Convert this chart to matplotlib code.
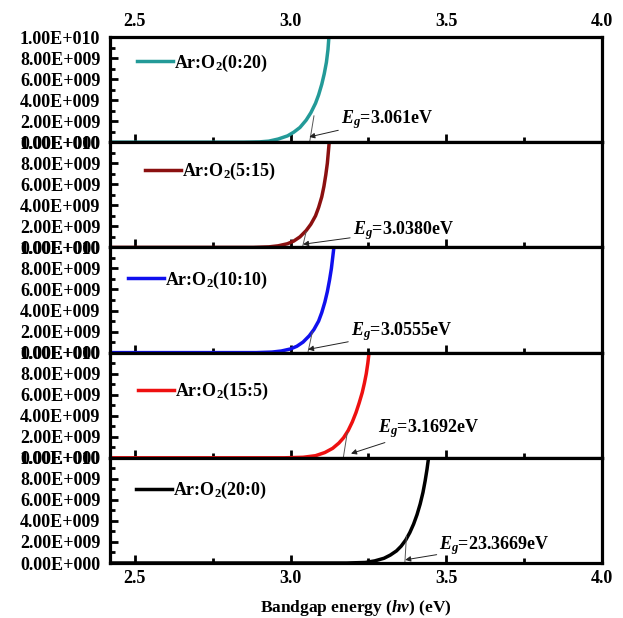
import matplotlib
matplotlib.use("Agg")
import matplotlib.pyplot as plt
from matplotlib.ticker import MultipleLocator, FixedLocator

plt.rcParams["font.family"] = ["Liberation Serif", "DejaVu Serif"]
plt.rcParams["font.weight"] = "bold"
plt.rcParams["mathtext.fontset"] = "custom"
plt.rcParams["mathtext.rm"] = "Liberation Serif:bold"
plt.rcParams["mathtext.bf"] = "Liberation Serif:bold"
plt.rcParams["mathtext.it"] = "Liberation Serif:italic:bold"

# données (x en eV, y en unités de 1e9)
labels = ["Ar:O$_2$(0:20)", "Ar:O$_2$(5:15)", "Ar:O$_2$(10:10)", "Ar:O$_2$(15:5)", "Ar:O$_2$(20:0)"]
colors = ["#239a98", "#8b1010", "#1010ee", "#ee1010", "#000000"]

x_0_20 = [2.42, 2.85, 2.90, 2.93, 2.96, 2.99, 3.01, 3.03, 3.05, 3.065, 3.08, 3.09, 3.10, 3.108, 3.115, 3.12, 3.123]
y_0_20 = [0, 0, 0.03, 0.1, 0.3, 0.6, 0.95, 1.4, 2.1, 2.8, 3.7, 4.5, 5.5, 6.5, 7.6, 8.8, 10.0]
x_5_15 = [2.42, 2.88, 2.93, 2.96, 2.99, 3.01, 3.03, 3.05, 3.065, 3.08, 3.09, 3.10, 3.107, 3.113, 3.118, 3.121, 3.124]
y_5_15 = [0, 0, 0.05, 0.15, 0.35, 0.6, 1.0, 1.6, 2.2, 3.0, 3.8, 4.8, 5.8, 6.9, 8.0, 9.0, 10.0]
x_10_10 = [2.42, 2.89, 2.94, 2.97, 3.00, 3.02, 3.04, 3.06, 3.075, 3.09, 3.10, 3.11, 3.118, 3.125, 3.131, 3.135, 3.139]
y_10_10 = [0, 0, 0.05, 0.15, 0.35, 0.6, 1.0, 1.6, 2.2, 3.0, 3.8, 4.8, 5.8, 6.9, 8.0, 9.0, 10.0]
x_15_5 = [2.42, 2.98, 3.04, 3.08, 3.11, 3.135, 3.155, 3.17, 3.185, 3.198, 3.21, 3.22, 3.23, 3.237, 3.243, 3.248, 3.252]
y_15_5 = [0, 0, 0.05, 0.2, 0.5, 0.9, 1.4, 1.9, 2.6, 3.4, 4.3, 5.2, 6.2, 7.1, 8.0, 9.0, 10.0]
x_20_0 = [2.42, 3.18, 3.24, 3.27, 3.30, 3.32, 3.34, 3.355, 3.37, 3.383, 3.395, 3.406, 3.416, 3.425, 3.432, 3.438, 3.443]
y_20_0 = [0, 0, 0.05, 0.2, 0.45, 0.75, 1.15, 1.6, 2.2, 2.9, 3.7, 4.6, 5.6, 6.7, 7.8, 8.9, 10.0]

xs = [x_0_20, x_5_15, x_10_10, x_15_5, x_20_0]
ys = [y_0_20, y_5_15, y_10_10, y_15_5, y_20_0]

eg_values = [3.061, 3.038, 3.0555, 3.1692, 3.3669]
eg_texts = ["$E_g$=3.061eV", "$E_g$=3.0380eV", "$E_g$=3.0555eV", "$E_g$=3.1692eV", "$E_g$=23.3669eV"]
# droites tangentes : extrémité haute
tan_x_top = [3.075, 3.05, 3.07, 3.182, 3.372]
tan_y_top = [2.5, 1.5, 2.0, 2.4, 2.6]

y_ticks = [0, 2, 4, 6, 8, 10]
y_ticklabels = ["0.00E+000", "2.00E+009", "4.00E+009", "6.00E+009", "8.00E+009", "1.00E+010"]

# placement (fractions d'axes)
leg_pos = [(0.055, 0.75), (0.071, 0.72), (0.037, 0.69), (0.057, 0.63), (0.053, 0.69)]
txt_pos = [(3.162, 0.22), (3.20, 0.16), (3.194, 0.20), (3.281, 0.28), (3.478, 0.17)]
arrow_head = [(3.06, 0.05), (3.04, 0.03), (3.056, 0.03), (3.194, 0.04), (3.368, 0.03)]

fig = plt.figure(figsize=(6.23, 6.18), dpi=100)
left, right = 110 / 623, 602 / 623
top, bottom = 1 - 37 / 618, 1 - 563 / 618
h = (top - bottom) / 5

for i in range(5):
    ax = fig.add_axes([left, top - (i + 1) * h, right - left, h])
    ax.plot(xs[i], ys[i], color=colors[i], lw=2.5, label=labels[i], clip_on=True)
    ax.plot([eg_values[i], tan_x_top[i]], [0, tan_y_top[i]], color="#555555", lw=0.7)
    ax.annotate(eg_texts[i], xy=arrow_head[i], xytext=txt_pos[i],
                xycoords=("data", "axes fraction"), textcoords=("data", "axes fraction"),
                fontsize=13, fontweight="bold", va="center", ha="left",
                arrowprops=dict(arrowstyle="-|>", color="#222222", lw=0.7,
                                mutation_scale=8, shrinkA=0, shrinkB=0))
    ax.set_xlim(2.42, 4.0)
    ax.set_ylim(0, 10)
    ax.xaxis.set_major_locator(FixedLocator([2.5, 3.0, 3.5, 4.0]))
    ax.xaxis.set_minor_locator(FixedLocator([2.75, 3.25, 3.75]))
    ax.yaxis.set_major_locator(FixedLocator(y_ticks))
    ax.yaxis.set_minor_locator(MultipleLocator(1))
    ax.set_yticklabels(y_ticklabels)
    ax.tick_params(axis="both", which="both", direction="in", width=2, labelsize=13,
                   top=False, right=False)
    ax.tick_params(axis="both", which="major", length=6)
    ax.tick_params(axis="both", which="minor", length=3.5)
    ax.tick_params(axis="x", labelbottom=(i == 4), labeltop=(i == 0), pad=5)
    ax.tick_params(axis="y", pad=7)
    for lab in ax.get_xticklabels() + ax.get_yticklabels():
        lab.set_fontweight("bold")
    for s in ax.spines.values():
        s.set_linewidth(2.3)
    lx, ly = leg_pos[i]
    ax.legend(loc="center left", bbox_to_anchor=(lx, ly), frameon=False,
              handlelength=2.0, handletextpad=0.05, borderpad=0, borderaxespad=0,
              prop={"size": 13, "weight": "bold"})
    if i == 4:
        ax.set_xlabel("Bandgap energy ($hv$) (eV)", fontsize=12.5, fontweight="bold", labelpad=8)

fig.savefig("out.png", dpi=100)
